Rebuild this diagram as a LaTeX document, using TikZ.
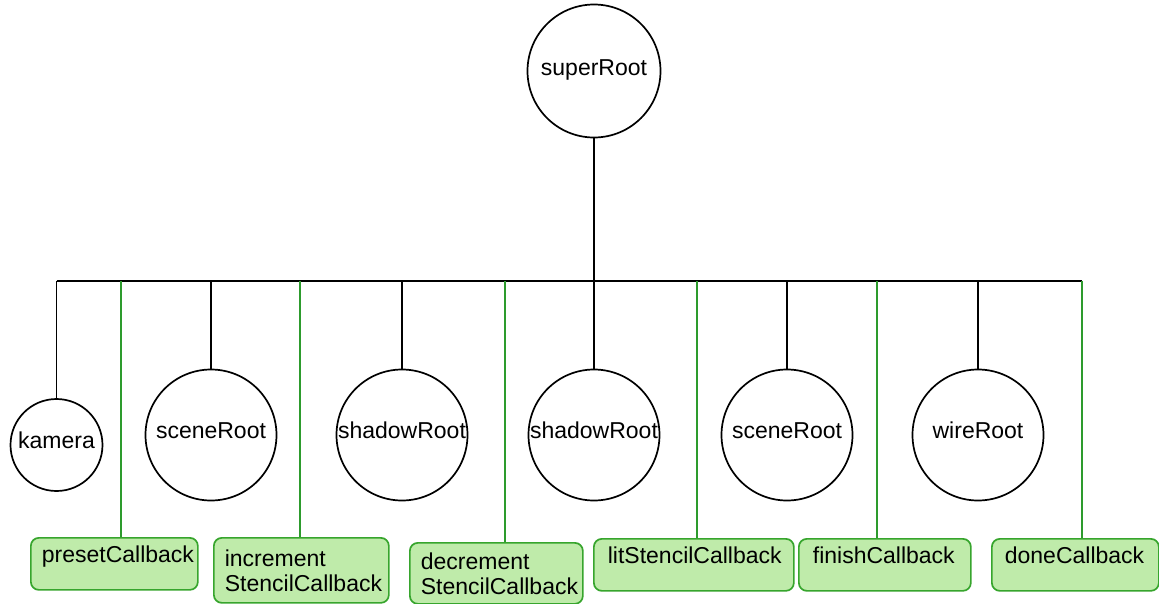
\documentclass[tikz,border=0pt]{standalone}
\usepackage{fontspec}
\setmainfont{Liberation Sans}
\definecolor{boxfill}{RGB}{191,235,170}
\definecolor{boxline}{RGB}{55,165,45}
\definecolor{gline}{RGB}{45,155,45}
\begin{document}
\begin{tikzpicture}[x=1pt,y=-1pt,
  circ/.style={circle,draw=black,line width=1.7pt,inner sep=0pt,
    font=\fontsize{23}{25}\selectfont,text height=16pt,text depth=9pt},
  cb/.style={draw=boxline,fill=boxfill,line width=1.7pt,rounded corners=8pt,
    anchor=north west,inner xsep=11pt,inner ysep=4pt,align=left,
    font=\fontsize{23}{25}\selectfont},
  cbone/.style={cb,text height=21pt,text depth=23pt},
  blk/.style={draw=black,line width=1.2pt},
  grn/.style={draw=gline,line width=1.2pt}]
\useasboundingbox (0,0) rectangle (1159,603);
% circles
\node[circ,minimum size=133pt,text height=17pt,text depth=8pt] (super) at (594,71) {\makebox[0pt]{superRoot}};
\node[circ,minimum size=92pt] (kam) at (56.5,445) {\makebox[0pt]{kamera}};
\node[circ,minimum size=131pt] (sc1) at (211,435) {\makebox[0pt]{sceneRoot}};
\node[circ,minimum size=131pt] (sh1) at (402,435) {\makebox[0pt]{shadowRoot}};
\node[circ,minimum size=131pt] (sh2) at (594,435) {\makebox[0pt]{shadowRoot}};
\node[circ,minimum size=131pt] (sc2) at (787,435) {\makebox[0pt]{sceneRoot}};
\node[circ,minimum size=131pt] (wire) at (978,435) {\makebox[0pt]{wireRoot}};
% callback boxes
\node[cbone,minimum width=167pt,minimum height=52pt,text width=145pt] (pb) at (30,537) {presetCallback};
\node[cb,minimum width=175pt,minimum height=65pt,text width=153pt,inner xsep=10pt] (ib) at (213,537) {increment\\StencilCallback};
\node[cb,minimum width=173pt,minimum height=61pt,text width=151pt,inner xsep=9pt] (db) at (409,542) {decrement\\StencilCallback};
\node[cbone,minimum width=194pt,minimum height=51pt,text width=172pt,inner xsep=14pt] (lb) at (593,538) {litStencilCallback};
\node[cbone,minimum width=168pt,minimum height=51pt,text width=144pt,inner xsep=14pt] (fb) at (798,538) {finishCallback};
\node[cbone,minimum width=167pt,minimum height=51pt,text width=141pt,inner xsep=13pt] (dob) at (991,538) {doneCallback};
% bus coordinates
\coordinate (bl) at (56.5,281);
\coordinate (br) at (1082,281);
\coordinate (g1) at (121,281);
\coordinate (g2) at (300,281);
\coordinate (g3) at (505,281);
\coordinate (g4) at (697,281);
\coordinate (g5) at (877,281);
\coordinate (g6) at (1082,281);
% black connectors
\draw[blk] (super.south) -- (super.south |- bl);
\draw[blk] (bl) -- (br);
\draw[blk] (kam.north) -- (kam.north |- bl);
\draw[blk] (sc1.north) -- (sc1.north |- bl);
\draw[blk] (sh1.north) -- (sh1.north |- bl);
\draw[blk] (sh2.north) -- (sh2.north |- bl);
\draw[blk] (sc2.north) -- (sc2.north |- bl);
\draw[blk] (wire.north) -- (wire.north |- bl);
% green connectors
\draw[grn] (g1) -- (g1 |- pb.north);
\draw[grn] (g2) -- (g2 |- ib.north);
\draw[grn] (g3) -- (g3 |- db.north);
\draw[grn] (g4) -- (g4 |- lb.north);
\draw[grn] (g5) -- (g5 |- fb.north);
\draw[grn] (g6) -- (g6 |- dob.north);
\end{tikzpicture}
\end{document}
